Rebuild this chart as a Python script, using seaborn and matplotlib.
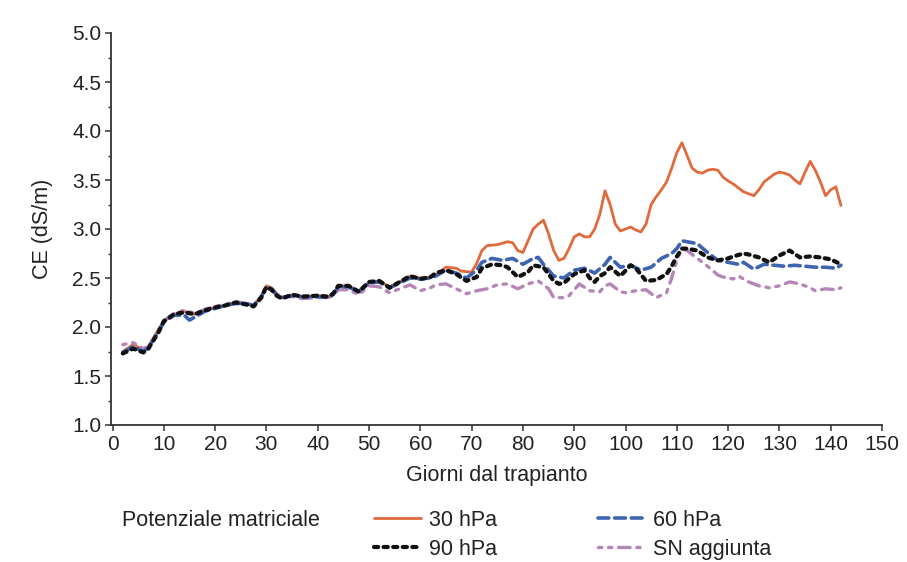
import numpy as np
import pandas as pd
import matplotlib
matplotlib.use("Agg")
import matplotlib.pyplot as plt
from matplotlib.lines import Line2D
from matplotlib.ticker import MultipleLocator
import seaborn as sns

# ---------------- data ----------------
days_30 = [2, 4, 6, 7, 9, 10, 12, 14, 16, 18, 20, 22, 24, 26, 27.5, 29, 30, 31, 32, 33, 35, 37, 40, 42, 43, 44, 46, 48,
           50, 52, 54, 56, 58, 60, 62, 63, 65, 67, 68, 70, 71, 72, 73, 75, 77, 78, 79, 80, 81, 82, 83, 84, 85, 86, 87,
           88, 89, 90, 91, 92, 93, 94, 95, 96, 97, 98, 99, 100, 101, 102, 103, 104, 105, 106, 107, 108, 109, 110, 111,
           112, 113, 114, 115, 116, 117, 118, 119, 120, 121, 122, 123, 124, 125, 126, 127, 128, 129, 130, 131, 132,
           133, 134, 135, 136, 137, 138, 139, 140, 141, 142]
ce_30 = [1.75, 1.82, 1.77, 1.80, 1.98, 2.06, 2.13, 2.16, 2.13, 2.17, 2.20, 2.22, 2.25, 2.24, 2.22, 2.32, 2.42, 2.40,
         2.34, 2.30, 2.33, 2.31, 2.32, 2.31, 2.33, 2.42, 2.42, 2.37, 2.46, 2.47, 2.41, 2.46, 2.52, 2.50, 2.51, 2.53,
         2.61, 2.60, 2.57, 2.56, 2.65, 2.78, 2.83, 2.84, 2.87, 2.86, 2.78, 2.76, 2.88, 3.00, 3.05, 3.09, 2.95, 2.78,
         2.68, 2.70, 2.80, 2.92, 2.95, 2.92, 2.92, 3.00, 3.15, 3.39, 3.25, 3.05, 2.98, 3.00, 3.02, 2.99, 2.97, 3.05,
         3.25, 3.33, 3.40, 3.48, 3.62, 3.78, 3.88, 3.75, 3.62, 3.58, 3.57, 3.60, 3.61, 3.60, 3.53, 3.49, 3.46, 3.42,
         3.38, 3.36, 3.34, 3.40, 3.48, 3.52, 3.56, 3.58, 3.57, 3.55, 3.50, 3.46, 3.58, 3.69, 3.60, 3.48, 3.34, 3.40,
         3.43, 3.24]

days_60 = [2, 4, 6, 7, 9, 10, 12, 14, 15, 16, 18, 20, 22, 24, 26, 27.5, 29, 30, 31, 32, 33, 35, 37, 40, 42, 43, 44, 46,
           48, 50, 52, 54, 56, 58, 60, 62, 63, 65, 67, 69, 71, 72, 74, 76, 78, 80, 82, 83, 84, 86, 88, 90, 92, 94, 96,
           97, 98, 99, 101, 103, 105, 107, 109, 110, 111, 112, 114, 116, 118, 120, 122, 123, 125, 127, 129, 131, 133,
           135, 137, 139, 141, 142]
ce_60 = [1.74, 1.80, 1.75, 1.79, 1.96, 2.05, 2.12, 2.12, 2.07, 2.10, 2.16, 2.19, 2.22, 2.24, 2.24, 2.22, 2.31, 2.41,
         2.39, 2.33, 2.30, 2.32, 2.31, 2.31, 2.30, 2.33, 2.41, 2.41, 2.36, 2.45, 2.46, 2.40, 2.45, 2.50, 2.49, 2.50,
         2.52, 2.58, 2.55, 2.50, 2.58, 2.66, 2.70, 2.68, 2.70, 2.64, 2.70, 2.71, 2.64, 2.52, 2.50, 2.58, 2.60, 2.55,
         2.64, 2.71, 2.66, 2.61, 2.63, 2.58, 2.61, 2.70, 2.75, 2.80, 2.88, 2.87, 2.85, 2.76, 2.68, 2.66, 2.64, 2.66,
         2.59, 2.64, 2.63, 2.62, 2.63, 2.62, 2.61, 2.61, 2.60, 2.63]

days_90 = [2, 4, 6, 7, 9, 10, 12, 14, 16, 18, 20, 22, 24, 26, 27.5, 29, 30, 31, 32, 33, 35, 37, 40, 42, 43, 44, 46, 48,
           50, 52, 54, 56, 58, 60, 62, 63, 65, 67, 69, 71, 72, 74, 76, 77, 79, 81, 82, 84, 86, 87, 88, 90, 92, 93, 94,
           95, 96, 97, 99, 101, 102, 104, 106, 108, 109, 110, 111, 112, 114, 116, 118, 120, 121, 123, 124, 126, 128,
           130, 132, 134, 136, 138, 140, 142]
ce_90 = [1.73, 1.78, 1.74, 1.78, 1.95, 2.06, 2.13, 2.15, 2.13, 2.17, 2.20, 2.22, 2.25, 2.23, 2.21, 2.30, 2.41, 2.38,
         2.32, 2.29, 2.33, 2.31, 2.32, 2.31, 2.34, 2.42, 2.42, 2.36, 2.46, 2.47, 2.40, 2.46, 2.52, 2.49, 2.51, 2.55,
         2.58, 2.54, 2.47, 2.51, 2.60, 2.64, 2.63, 2.61, 2.51, 2.56, 2.63, 2.61, 2.47, 2.44, 2.45, 2.54, 2.58, 2.50,
         2.46, 2.52, 2.55, 2.61, 2.52, 2.63, 2.60, 2.47, 2.48, 2.54, 2.62, 2.72, 2.80, 2.80, 2.78, 2.71, 2.68, 2.70,
         2.72, 2.75, 2.74, 2.71, 2.66, 2.73, 2.78, 2.71, 2.72, 2.71, 2.69, 2.64]

days_sn = [2, 4, 6, 7, 9, 10, 12, 14, 16, 18, 20, 22, 24, 26, 27.5, 29, 30, 31, 32, 33, 35, 37, 40, 42, 43, 44, 46, 48,
           50, 52, 54, 56, 58, 60, 62, 63, 65, 67, 69, 71, 73, 75, 77, 79, 81, 83, 85, 86, 88, 89, 91, 93, 95, 96, 97,
           99, 100, 102, 104, 106, 108, 109, 110, 111, 112, 114, 116, 118, 119, 121, 122, 124, 126, 128, 130, 132, 134,
           136, 137, 139, 141, 142]
ce_sn = [1.82, 1.84, 1.78, 1.80, 1.97, 2.06, 2.14, 2.17, 2.14, 2.18, 2.21, 2.23, 2.26, 2.24, 2.22, 2.31, 2.40, 2.38,
         2.33, 2.30, 2.31, 2.29, 2.30, 2.30, 2.32, 2.38, 2.38, 2.33, 2.42, 2.41, 2.35, 2.39, 2.43, 2.37, 2.40, 2.43,
         2.44, 2.39, 2.34, 2.37, 2.39, 2.43, 2.44, 2.39, 2.44, 2.47, 2.39, 2.30, 2.30, 2.32, 2.44, 2.37, 2.36, 2.42,
         2.44, 2.36, 2.35, 2.37, 2.38, 2.30, 2.35, 2.50, 2.68, 2.80, 2.78, 2.70, 2.62, 2.53, 2.51, 2.49, 2.52, 2.46,
         2.42, 2.40, 2.42, 2.46, 2.44, 2.40, 2.37, 2.39, 2.38, 2.40]

series_labels = ["30 hPa", "60 hPa", "90 hPa", "SN aggiunta"]
x_ticks = list(range(0, 151, 10))
y_ticks = [1.0, 1.5, 2.0, 2.5, 3.0, 3.5, 4.0, 4.5, 5.0]

frames = []
for lab, d, v in zip(series_labels, [days_30, days_60, days_90, days_sn], [ce_30, ce_60, ce_90, ce_sn]):
    frames.append(pd.DataFrame({"day": d, "ce": v, "serie": lab}))
df = pd.concat(frames, ignore_index=True)

# ---------------- styling ----------------
sns.set_theme(style="ticks")
plt.rcParams["font.family"] = ["Liberation Sans", "DejaVu Sans"]

colors = {"30 hPa": "#E06A3C", "60 hPa": "#3E63B0", "90 hPa": "#111111", "SN aggiunta": "#B685B8"}
styles = {
    "30 hPa": dict(ls="-", lw=2.0),
    "60 hPa": dict(ls=(0, (3.0, 1.6)), lw=2.6),
    "90 hPa": dict(ls=(0, (1.0, 1.3)), lw=3.0),
    "SN aggiunta": dict(ls=(0, (1.0, 2.0, 1.0, 2.0, 3.5, 2.0)), lw=2.4),
}

fig = plt.figure(figsize=(9.07, 5.62), dpi=100)
ax = fig.add_axes([111 / 907, 1 - 425 / 562, (882 - 111) / 907, (425 - 33) / 562])

draw_order = ["30 hPa", "SN aggiunta", "60 hPa", "90 hPa"]
for lab in draw_order:
    sub = df[df["serie"] == lab]
    sns.lineplot(data=sub, x="day", y="ce", ax=ax, color=colors[lab], estimator=None, sort=True,
                 linewidth=styles[lab]["lw"], linestyle=styles[lab]["ls"], legend=False)
for ln in ax.lines:
    ln.set_dash_capstyle("round")
    ln.set_solid_capstyle("round")

ax.set_xlim(-0.3, 150)
ax.set_ylim(1.0, 5.0)
ax.set_xticks(x_ticks)
ax.set_yticks(y_ticks)
ax.set_yticklabels([f"{t:.1f}" for t in y_ticks])
ax.yaxis.set_minor_locator(MultipleLocator(0.25))
ax.tick_params(axis="both", which="major", labelsize=15, length=4, width=1.1, color="#333333",
               labelcolor="#222222", pad=3)
ax.tick_params(axis="both", which="minor", length=2.5, width=1.0, color="#333333")
sns.despine(ax=ax)
for s in ["left", "bottom"]:
    ax.spines[s].set_linewidth(1.3)
    ax.spines[s].set_color("#333333")

ax.set_xlabel("Giorni dal trapianto", fontsize=15.5, color="#222222", labelpad=8)
ax.set_ylabel("CE (dS/m)", fontsize=15.5, color="#222222", labelpad=14)

# legend
fig.text(122 / 907, 1 - 521 / 562, "Potenziale matriciale", fontsize=15.5, color="#222222",
         ha="left", va="center")
handles = []
for lab in ["30 hPa", "90 hPa", "60 hPa", "SN aggiunta"]:
    handles.append(Line2D([0], [0], color=colors[lab], lw=styles[lab]["lw"], ls=styles[lab]["ls"],
                          dash_capstyle="round"))
leg = fig.legend(handles, ["30 hPa", "90 hPa", "60 hPa", "SN aggiunta"], ncol=2, frameon=False,
                 loc="upper left", bbox_to_anchor=(374 / 907, 1 - 510 / 562), fontsize=15.5,
                 handlelength=2.2, handletextpad=0.35, columnspacing=4.7, labelspacing=0.35,
                 borderpad=0, borderaxespad=0)
for t in leg.get_texts():
    t.set_color("#222222")

fig.savefig("out.png", dpi=100, facecolor="white")
